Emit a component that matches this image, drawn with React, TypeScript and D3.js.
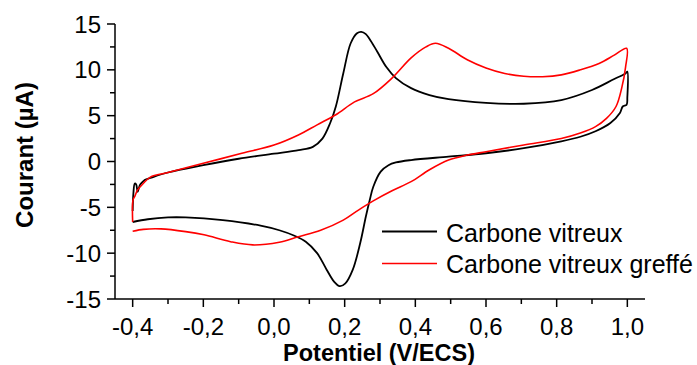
import React from "react";
import * as d3 from "d3";

const xTicks = [-0.4, -0.2, 0.0, 0.2, 0.4, 0.6, 0.8, 1.0];
const xMinor = [-0.3, -0.1, 0.1, 0.3, 0.5, 0.7, 0.9];
const yTicks = [-15, -10, -5, 0, 5, 10, 15];
const yMinor = [-12.5, -7.5, -2.5, 2.5, 7.5, 12.5];

const seriesNames = ["Carbone vitreux", "Carbone vitreux greffé"];

// Carbone vitreux (black) : forward scan then reverse scan
const blackV = [
  -0.4, -0.398, -0.394, -0.39, -0.386, -0.38, -0.374, -0.365, -0.35, -0.3, -0.2, -0.1, 0.0, 0.07, 0.11,
  0.137, 0.159, 0.175, 0.196, 0.217, 0.235, 0.247, 0.26, 0.27, 0.292, 0.318, 0.345, 0.388, 0.44, 0.494,
  0.6, 0.707, 0.813, 0.9, 0.963, 0.995, 1.0,
  1.0, 0.998, 0.987, 0.979, 0.952, 0.91, 0.867, 0.813, 0.707, 0.6, 0.494, 0.388, 0.345, 0.324, 0.302,
  0.281, 0.271, 0.26, 0.244, 0.223, 0.202, 0.186, 0.17, 0.149, 0.122, 0.09, 0.058, 0.015, -0.038,
  -0.145, -0.25, -0.3, -0.357, -0.4,
];
const blackI = [
  -5.4, -3.5, -2.4, -2.5, -3.3, -2.6, -2.3, -2.0, -1.8, -1.2, -0.4, 0.3, 0.85, 1.25, 1.6,
  2.5, 4.2, 6.0, 9.6, 12.9, 14.0, 14.15, 13.9, 13.4, 12.0, 10.3, 9.1, 8.0, 7.25, 6.8,
  6.4, 6.3, 6.7, 7.8, 9.0, 9.6, 9.8,
  7.0, 6.2, 6.0, 5.3, 4.2, 3.3, 2.7, 2.2, 1.45, 0.9, 0.53, 0.16, -0.1, -0.4, -1.1,
  -2.75, -4.2, -6.0, -8.9, -11.8, -13.3, -13.6, -13.1, -11.8, -10.0, -8.75, -8.1, -7.5, -7.0,
  -6.4, -6.1, -6.1, -6.3, -6.6,
];

// Carbone vitreux greffé (red)
const redV = [
  -0.4, -0.399, -0.394, -0.386, -0.37, -0.35, -0.3, -0.2, -0.091, 0.0, 0.069, 0.122, 0.175, 0.228,
  0.281, 0.334, 0.388, 0.43, 0.457, 0.494, 0.547, 0.6, 0.653, 0.707, 0.76, 0.813, 0.867, 0.92, 0.963,
  0.998,
  0.995, 0.984, 0.968, 0.941, 0.91, 0.867, 0.813, 0.707, 0.6, 0.547, 0.494, 0.44, 0.388, 0.334, 0.281,
  0.239, 0.196, 0.132, 0.069, 0.015, -0.06, -0.123, -0.198, -0.25, -0.32, -0.37, -0.4,
];
const redI = [
  -6.6, -4.2, -3.8, -3.1, -2.4, -1.7, -1.2, -0.2, 0.9, 1.8, 2.9, 4.0, 5.1, 6.5,
  7.4, 9.1, 11.3, 12.5, 12.9, 12.35, 11.1, 10.2, 9.6, 9.3, 9.25, 9.45, 10.0, 10.7, 11.6,
  12.35,
  10.3, 8.0, 6.0, 4.7, 3.8, 3.1, 2.5, 1.8, 1.07, 0.7, 0.16, -0.9, -2.2, -3.2, -4.3,
  -5.3, -6.4, -7.5, -8.2, -8.8, -9.1, -8.75, -8.0, -7.65, -7.35, -7.4, -7.6,
];

const W = 697;
const H = 365;
const FONT = "'Liberation Sans', Arial, Helvetica, sans-serif";

export default function App() {
  const x = d3.scaleLinear().domain([-0.45, 1.05]).range([115, 645]);
  const y = d3.scaleLinear().domain([-15, 15]).range([299, 24]);

  const line = d3
    .line<[number, number]>()
    .x((d) => x(d[0]))
    .y((d) => y(d[1]))
    .curve(d3.curveCatmullRom.alpha(0.5));

  const black: [number, number][] = blackV.map((v, i) => [v, blackI[i]]);
  const red: [number, number][] = redV.map((v, i) => [v, redI[i]]);

  const fmt = (v: number) => v.toFixed(1).replace(".", ",");
  const x0 = x.range()[0];
  const y0 = y.range()[0];

  return (
    <svg
      width={W}
      height={H}
      style={{ position: "absolute", left: 0, top: 0, background: "#fff" }}
      fontFamily={FONT}
    >
      <rect width={W} height={H} fill="#fff" />
      <path d={line(black) || ""} fill="none" stroke="#000" strokeWidth={1.8} strokeLinejoin="round" />
      <path d={line(red) || ""} fill="none" stroke="#ff0000" strokeWidth={1.6} strokeLinejoin="round" />

      {/* axes */}
      <line x1={x0} x2={x0} y1={y(15)} y2={y0} stroke="#000" strokeWidth={1.5} />
      <line x1={x0} x2={x.range()[1]} y1={y0} y2={y0} stroke="#000" strokeWidth={1.5} />

      {yTicks.map((t) => (
        <g key={"y" + t}>
          <line x1={x0 - 8} x2={x0} y1={y(t)} y2={y(t)} stroke="#000" strokeWidth={1.5} />
          <text x={101} y={y(t)} dy="0.36em" textAnchor="end" fontSize={24}>
            {t}
          </text>
        </g>
      ))}
      {yMinor.map((t) => (
        <line key={"ym" + t} x1={x0 - 5} x2={x0} y1={y(t)} y2={y(t)} stroke="#000" strokeWidth={1.5} />
      ))}
      {xTicks.map((t) => (
        <g key={"x" + t}>
          <line x1={x(t)} x2={x(t)} y1={y0} y2={y0 + 8} stroke="#000" strokeWidth={1.5} />
          <text x={x(t)} y={335} textAnchor="middle" fontSize={24}>
            {fmt(t)}
          </text>
        </g>
      ))}
      {xMinor.map((t) => (
        <line key={"xm" + t} x1={x(t)} x2={x(t)} y1={y0} y2={y0 + 5} stroke="#000" strokeWidth={1.5} />
      ))}

      <text x={379} y={361} textAnchor="middle" fontSize={23.5} fontWeight="bold">
        Potentiel (V/ECS)
      </text>
      <text
        transform="translate(33,155) rotate(-90)"
        textAnchor="middle"
        fontSize={24}
        fontWeight="bold"
      >
        Courant (µA)
      </text>

      {/* legend */}
      <line x1={382} x2={437} y1={231.5} y2={231.5} stroke="#000" strokeWidth={1.8} />
      <text x={446} y={241.5} fontSize={25}>
        {seriesNames[0]}
      </text>
      <line x1={382} x2={437} y1={263.5} y2={263.5} stroke="#ff0000" strokeWidth={1.6} />
      <text x={446} y={273} fontSize={25}>
        {seriesNames[1]}
      </text>
    </svg>
  );
}
